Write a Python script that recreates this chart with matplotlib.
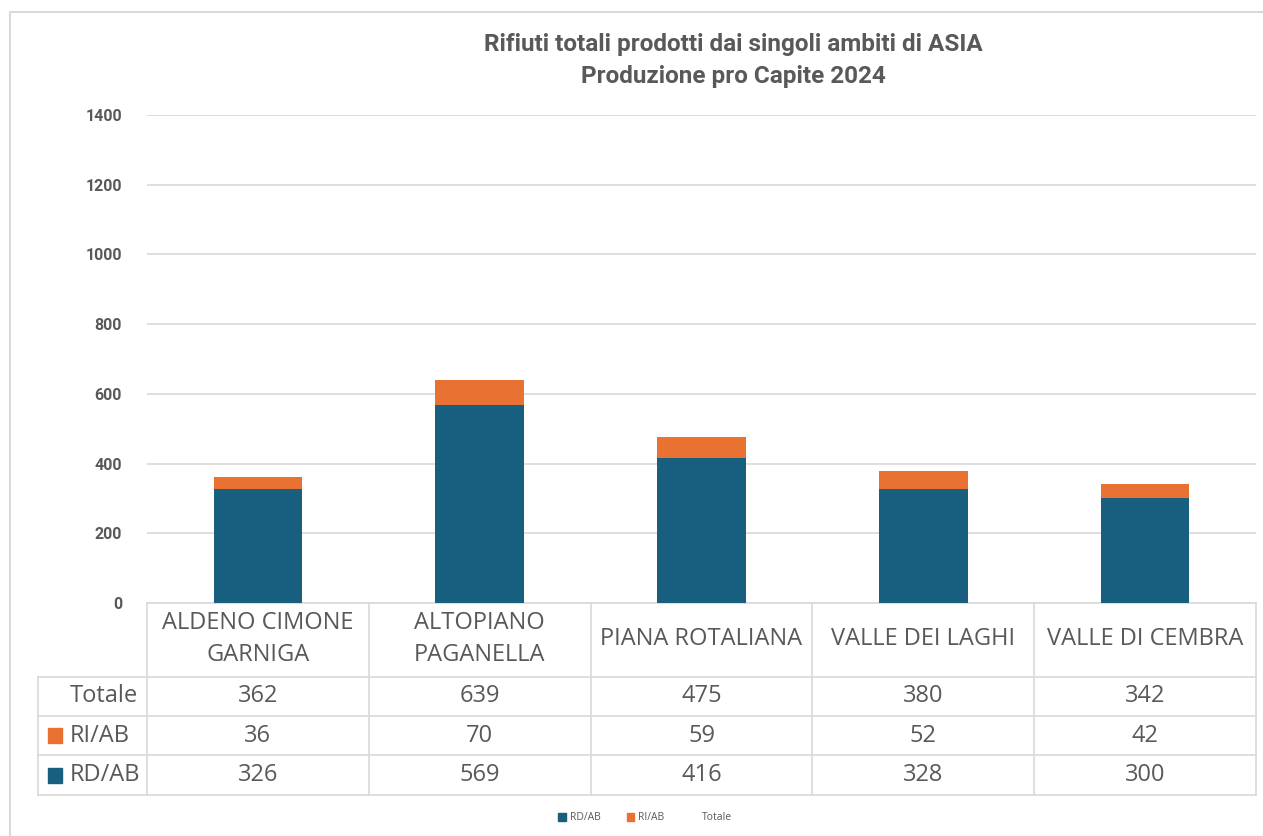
import numpy as np
import matplotlib.pyplot as plt
from matplotlib.transforms import blended_transform_factory
from matplotlib.patches import Rectangle

categories = ['ALDENO CIMONE\nGARNIGA', 'ALTOPIANO\nPAGANELLA', 'PIANA ROTALIANA',
              'VALLE DEI LAGHI', 'VALLE DI CEMBRA']
rd_ab = [326, 569, 416, 328, 300]
ri_ab = [36, 70, 59, 52, 42]
totale = [362, 639, 475, 380, 342]

blue = '#175e7f'
orange = '#e97132'
grey = '#595959'
line_c = '#d9d9d9'

plt.rcParams['font.family'] = ['Open Sans', 'DejaVu Sans']

fig = plt.figure(figsize=(12.63, 8.36), dpi=100)
ax = fig.add_axes([147/1263, 1 - 603/836, (1256 - 147)/1263, 488/836])

x = np.arange(len(categories))
ax.bar(x, rd_ab, width=0.4, color=blue, zorder=3)
ax.bar(x, ri_ab, width=0.4, bottom=rd_ab, color=orange, zorder=3)

ax.set_xlim(-0.5, len(categories) - 0.5)
ax.set_ylim(0, 1400)
ax.set_yticks(np.arange(0, 1401, 200))
ax.set_xticks([])
ax.yaxis.grid(True, color=line_c, linewidth=1.2, zorder=0)
for s in ax.spines.values():
    s.set_visible(False)
ax.tick_params(axis='y', length=0, pad=18, labelsize=11.5, labelcolor=grey)
for lab in ax.get_yticklabels():
    lab.set_fontweight('bold')
    lab.set_fontfamily('Roboto')

# data table under the chart
tr = blended_transform_factory(ax.transData, ax.transAxes)
ph = 488.0
cw = 221.8
row_y = [0, -74/ph, -113/ph, -152/ph, -192/ph]
left = -0.5 - 109/cw
right = len(categories) - 0.5
kw = dict(color=line_c, linewidth=1.2, transform=tr, clip_on=False)
ax.plot([-0.5, right], [row_y[0]] * 2, **kw)
for yv in row_y[1:]:
    ax.plot([left, right], [yv, yv], **kw)
for xv in np.arange(-0.5, right + 0.01, 1):
    ax.plot([xv, xv], [row_y[0], row_y[-1]], **kw)
ax.plot([left, left], [row_y[1], row_y[-1]], **kw)

fs = 17
for i, cat in enumerate(categories):
    ax.text(i, (row_y[0] + row_y[1]) / 2 + 1/ph, cat, transform=tr, ha='center', va='center',
            fontsize=fs, color=grey, linespacing=1.45)
rows = [('Totale', totale, None), ('RI/AB', ri_ab, orange), ('RD/AB', rd_ab, blue)]
for r, (name, vals, col) in enumerate(rows):
    yc = (row_y[r + 1] + row_y[r + 2]) / 2
    for i, v in enumerate(vals):
        ax.text(i, yc, str(v), transform=tr, ha='center', va='center', fontsize=fs, color=grey)
    ax.text(left + 32/cw, yc, name, transform=tr, ha='left', va='center', fontsize=fs, color=grey)
    if col is not None:
        ax.add_patch(Rectangle((left + 10/cw, yc - 7.5/ph), 14/cw, 15/ph, transform=tr,
                               color=col, clip_on=False))

# title
fig.text(733/1263, 1 - 45/836, 'Rifiuti totali prodotti dai singoli ambiti di ASIA',
         ha='center', va='center', fontsize=17.5, fontweight='bold', color=grey, family='Roboto')
fig.text(733/1263, 1 - 77/836, 'Produzione pro Capite 2024',
         ha='center', va='center', fontsize=17.5, fontweight='bold', color=grey, family='Roboto')

# legend
fig.legend(handles=[Rectangle((0, 0), 1, 1, color=blue), Rectangle((0, 0), 1, 1, color=orange),
                    Rectangle((0, 0), 1, 1, alpha=0)],
           labels=['RD/AB', 'RI/AB', 'Totale'], loc='center', bbox_to_anchor=(645/1263, 1 - 818/836),
           ncol=3, frameon=False, fontsize=7.5, labelcolor=grey, handlelength=0.7, handleheight=0.7,
           handletextpad=0.4, columnspacing=2.5)

# outer frame
fig.add_artist(Rectangle((10/1263, -0.01), 1.02, 1 - 12/836 + 0.01, transform=fig.transFigure,
                         fill=False, edgecolor=line_c, linewidth=1.5))

fig.savefig('out.png', dpi=100)
